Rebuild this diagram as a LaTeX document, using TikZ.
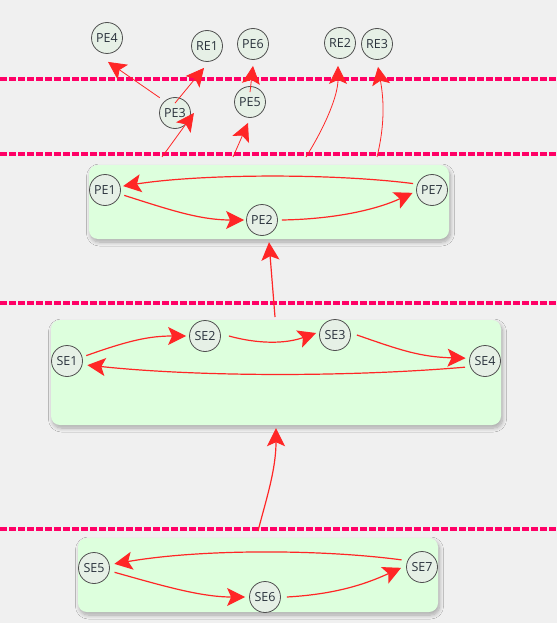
\documentclass[tikz,border=0pt]{standalone}
\usepackage{fontspec}
\setmainfont{Open Sans}
\usetikzlibrary{arrows.meta,shadows,shadows.blur}
\definecolor{bg}{HTML}{F0F0F0}
\definecolor{edgered}{HTML}{FF2626}
\definecolor{sep}{HTML}{FF0066}
\definecolor{boxfill}{HTML}{DDFFDD}
\definecolor{nodefill}{HTML}{E6F0E6}
\definecolor{nodeline}{HTML}{505050}
\definecolor{txt}{HTML}{2A323C}
\tikzset{
  x=1pt, y=-1pt,
  ent/.style={circle, draw=nodeline, line width=0.8pt, fill=nodefill, minimum size=31pt, inner sep=0pt,
    text=txt, font=\fontsize{12.5}{14}\selectfont},
  grp/.style={draw=none, fill=boxfill, rounded corners=9pt, inner sep=0pt,
    blur shadow={shadow xshift=1.5pt, shadow yshift=-3pt, shadow blur steps=10, shadow blur radius=4pt, shadow opacity=30}},
  e/.style={draw=edgered, line width=1.2pt, -{Stealth[length=18pt,width=18pt,inset=4pt]}},
  ethin/.style={e, line width=0.8pt},
  sepline/.style={draw=sep, line width=3.2pt, dash pattern=on 6.5pt off 2.5pt},
}
\begin{document}
\begin{tikzpicture}
\useasboundingbox[fill=bg] (0,0) rectangle (557,623);
% separators
\coordinate (L1) at (0,79); \coordinate (R1) at (557,79);
\coordinate (L2) at (0,154); \coordinate (R2) at (557,154);
\coordinate (L3) at (0,303); \coordinate (R3) at (557,303);
\coordinate (L4) at (0,529); \coordinate (R4) at (557,529);
\draw[sepline] (L1) -- (R1);
\draw[sepline] (L2) -- (R2);
\draw[sepline] (L3) -- (R3);
\draw[sepline] (L4) -- (R4);
% group boxes
\node[grp, minimum width=360pt, minimum height=74pt] (PEbox) at (269,202) {};
\node[grp, minimum width=450pt, minimum height=105pt] (SEbox) at (276,372.5) {};
\node[grp, minimum width=360pt, minimum height=74pt] (SEbox2) at (258,575) {};
% free ends
\coordinate (s1) at (162,157);
\coordinate (s2) at (233,157);
\coordinate (s3) at (306,157);
\coordinate (s4) at (377,157);
\coordinate (s5) at (275,317);
\coordinate (s6) at (258,531);
% nodes
\node[ent] (PE4) at (107,38) {PE4};
\node[ent] (RE1) at (207,46) {RE1};
\node[ent] (PE6) at (253,44) {PE6};
\node[ent] (RE2) at (340,43) {RE2};
\node[ent] (RE3) at (377,44) {RE3};
\node[ent] (PE3) at (175,113) {PE3};
\node[ent] (PE5) at (250,102) {PE5};
\node[ent] (PE1) at (105,190) {PE1};
\node[ent] (PE2) at (262,220) {PE2};
\node[ent] (PE7) at (432,190) {PE7};
\node[ent] (SE1) at (67,361) {SE1};
\node[ent] (SE2) at (205,336) {SE2};
\node[ent] (SE3) at (335,335) {SE3};
\node[ent] (SE4) at (485,361) {SE4};
\node[ent] (SE5) at (94,568) {SE5};
\node[ent] (SE6) at (265,597) {SE6};
\node[ent] (SE7) at (422,567) {SE7};
% top area edges
\draw[ethin] (PE3.135) ++(-4,-4) coordinate (t1) (t1) -- ([xshift=1pt,yshift=-8pt]PE4.south);
\draw[ethin] ([yshift=-6pt]PE3.north) -- ([xshift=-3pt,yshift=-6pt]RE1.south);
\draw[ethin] ([yshift=-6pt]PE5.north) -- ([yshift=-6pt]PE6.south);
\draw[ethin] (s1) -- ([xshift=3pt]PE3.east);
\draw[ethin] (s2) -- ([xshift=-2pt,yshift=-5pt]PE5.south);
\draw[ethin] (s3) .. controls (326,125) and (338,95) .. ([xshift=-2pt,yshift=-7pt]RE2.south);
\draw[ethin] (s4) .. controls (386,120) and (383,95) .. ([xshift=1pt,yshift=-7pt]RE3.south);
% between groups
\draw[e] (s5) -- ([yshift=-3pt]PEbox.south);
\draw[e] (s6) .. controls (266,500) and (276,470) .. ([yshift=-3pt]SEbox.south);
% PE group
\draw[e] (PE7.160) ++(-4,-1) coordinate (a1) (a1) .. controls (330,173) and (200,174) .. ([xshift=3pt,yshift=-1pt]PE1.18);
\draw[e] (PE1.344) ++(4,1) coordinate (a2) (a2) .. controls (170,210) and (200,220) .. ([xshift=-2pt]PE2.west);
\draw[e] ([xshift=4pt]PE2.east) .. controls (340,219) and (380,208) .. ([xshift=-4pt,yshift=1pt]PE7.194);
% SE group
\draw[e] (SE1.16) ++(4,-1) coordinate (b1) (b1) .. controls (130,340) and (150,336) .. ([xshift=-3pt]SE2.west);
\draw[e] ([xshift=8pt]SE2.east) .. controls (258,344) and (285,344) .. ([xshift=-3pt,yshift=2pt]SE3.west);
\draw[e] ([xshift=6pt]SE3.east) .. controls (400,350) and (420,357) .. ([xshift=-4pt,yshift=-1pt]SE4.166);
\draw[e] (SE4.199) ++(-5,1) coordinate (b2) (b2) .. controls (350,377) and (200,377) .. ([xshift=5pt]SE1.345);
% SE lower group
\draw[e] (SE5.348) ++(5,1) coordinate (c1) (c1) .. controls (160,585) and (200,597) .. ([xshift=-4pt]SE6.west);
\draw[e] ([xshift=6pt]SE6.east) .. controls (340,594) and (370,582) .. ([xshift=-5pt]SE7.183);
\draw[e] (SE7.165) ++(-5,-3) coordinate (c2) (c2) .. controls (320,549) and (200,549) .. ([xshift=5pt]SE5.15);
\end{tikzpicture}
\end{document}
